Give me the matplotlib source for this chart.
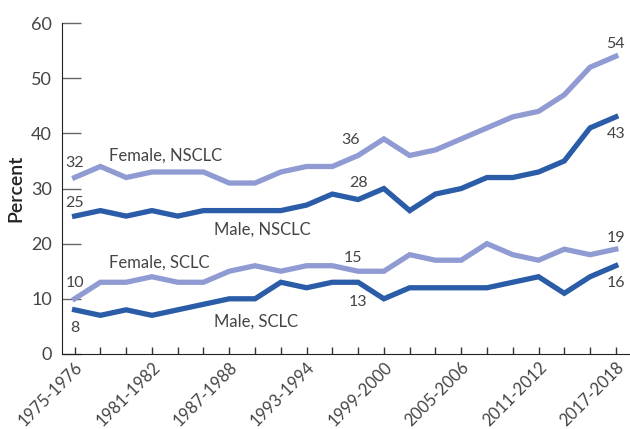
import numpy as np
import matplotlib
matplotlib.use("Agg")
import matplotlib.pyplot as plt

plt.rcParams['font.family'] = ['Lato', 'Open Sans', 'DejaVu Sans']

periods = [f"{y}-{y + 1}" for y in range(1975, 2018, 2)]
female_nsclc = [32, 34, 32, 33, 33, 33, 31, 31, 33, 34, 34, 36, 39, 36, 37, 39, 41, 43, 44, 47, 52, 54]
male_nsclc = [25, 26, 25, 26, 25, 26, 26, 26, 26, 27, 29, 28, 30, 26, 29, 30, 32, 32, 33, 35, 41, 43]
female_sclc = [10, 13, 13, 14, 13, 13, 15, 16, 15, 16, 16, 15, 15, 18, 17, 17, 20, 18, 17, 19, 18, 19]
male_sclc = [8, 7, 8, 7, 8, 9, 10, 10, 13, 12, 13, 13, 10, 12, 12, 12, 12, 13, 14, 11, 14, 16]

dark = "#2a5ca8"
light = "#8f9bd2"
txt = "#444444"

x = np.arange(len(periods))

fig = plt.figure(figsize=(6.3, 4.29), dpi=100)
ax = fig.add_axes([0.098, 0.175, 0.902, 0.771])

for ys, c in [(female_nsclc, light), (male_nsclc, dark), (female_sclc, light), (male_sclc, dark)]:
    ax.plot(x, ys, color=c, lw=3.8, solid_joinstyle='miter')

# series names
ax.text(1.35, 36, "Female, NSCLC", color=txt, fontsize=12, va='center')
ax.text(5.4, 22.5, "Male, NSCLC", color=txt, fontsize=12, va='center')
ax.text(1.35, 16.5, "Female, SCLC", color=txt, fontsize=12, va='center')
ax.text(5.4, 5.8, "Male, SCLC", color=txt, fontsize=12, va='center')

# value labels
labels = [
    (0, 34.6, female_nsclc[0]), (0, 27.4, male_nsclc[0]),
    (0, 12.9, female_sclc[0]), (0, 4.7, male_sclc[0]),
    (10.7, 38.8, female_nsclc[11]), (11, 31, male_nsclc[11]),
    (10.8, 17.4, female_sclc[11]), (11, 9.4, male_sclc[11]),
    (21, 56.2, female_nsclc[-1]), (21, 39.9, male_nsclc[-1]),
    (21, 21, female_sclc[-1]), (21, 12.9, male_sclc[-1]),
]
for xi, yi, v in labels:
    ax.text(xi, yi, str(v), color=txt, fontsize=11.5, ha='center', va='center')

ax.set_xlim(-0.5, 21.55)
ax.set_ylim(0, 60)
ax.set_yticks(range(0, 61, 10))
ax.set_xticks(x)
ax.set_xticklabels([p if i % 3 == 0 else "" for i, p in enumerate(periods)],
                   rotation=45, ha='right', rotation_mode='anchor')
ax.tick_params(axis='y', direction='in', length=14, width=1, color='#666666',
               labelsize=13, labelcolor=txt, pad=7)
ax.tick_params(axis='x', direction='in', length=5, width=1, color='#333333',
               labelsize=12, labelcolor=txt, pad=4)
for s in ['top', 'right']:
    ax.spines[s].set_visible(False)
ax.spines['left'].set_color('#222222')
ax.spines['bottom'].set_color('#222222')
ax.set_ylabel("Percent", fontsize=14, fontweight='semibold', color='#222222', labelpad=5)

plt.savefig("out.png", dpi=100)
